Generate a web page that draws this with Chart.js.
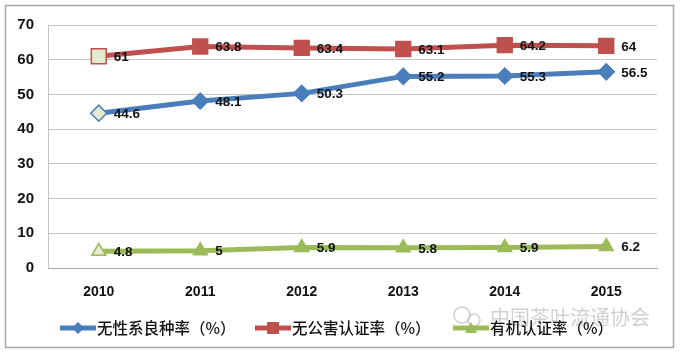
<!DOCTYPE html>
<html><head><meta charset="utf-8">
<script src="https://cdn.jsdelivr.net/npm/chart.js@4/dist/chart.umd.min.js"></script>
<style>html,body{margin:0;padding:0;background:#fff}#c{display:block}</style>
</head><body>
<canvas id="c" width="684" height="355"></canvas>
<script>
const years = ['2010','2011','2012','2013','2014','2015'];
const clonalRate = [44.6, 48.1, 50.3, 55.2, 55.3, 56.5];
const pollutionFreeRate = [61, 63.8, 63.4, 63.1, 64.2, 64];
const organicRate = [4.8, 5, 5.9, 5.8, 5.9, 6.2];
const seriesNames = ['无性系良种率（%）', '无公害认证率（%）', '有机认证率（%）'];
const yMin = 0, yMax = 70, yStep = 10;

const BLUE = '#4a7ebb', RED = '#c0504d', GREEN = '#9bbb59', PALE = '#e4ead0';

function firstPale(col){ return years.map((y,i)=> i===0 ? PALE : col); }

const frame = {
  id:'frame',
  beforeDraw(chart){
    const c = chart.ctx;
    c.save();
    c.fillStyle='#fff'; c.fillRect(0,0,chart.width,chart.height);
    c.strokeStyle='#a6a6a6'; c.lineWidth=1.5;
    c.strokeRect(5.5,5.5,668,342);
    c.fillStyle='rgba(170,170,170,0.55)';
    c.font='20px "Noto Sans CJK SC"';
    c.textBaseline='middle';
    c.fillText('中国茶叶流通协会', 490, 317);
    c.strokeStyle='rgba(170,170,170,0.55)'; c.lineWidth=1.5;
    c.beginPath(); c.arc(462,315,8,0,Math.PI*2); c.stroke();
    c.beginPath(); c.arc(474,320,6,0,Math.PI*2); c.stroke();
    c.restore();
  }
};

const valueLabels = {
  id:'valueLabels',
  afterDatasetsDraw(chart){
    const c = chart.ctx;
    c.save();
    c.font='bold 13.5px "Liberation Sans", Arial, sans-serif';
    c.fillStyle='#111';
    c.textBaseline='middle';
    c.textAlign='left';
    chart.data.datasets.forEach((ds,di)=>{
      chart.getDatasetMeta(di).data.forEach((pt,i)=>{
        c.fillText(String(ds.data[i]), pt.x+15, pt.y+1);
      });
    });
    c.restore();
  }
};

const customLegend = {
  id:'customLegend',
  afterDraw(chart){
    const c = chart.ctx;
    c.save();
    const starts = [60, 255, 453];
    const y = 328;
    c.font='500 15.5px "Noto Sans CJK SC"';
    c.textBaseline='middle';
    chart.data.datasets.forEach((ds,di)=>{
      const x0 = starts[di];
      c.strokeStyle=ds.borderColor; c.lineWidth=5;
      c.beginPath(); c.moveTo(x0,y); c.lineTo(x0+36,y); c.stroke();
      c.fillStyle=ds.borderColor;
      const mx = x0+18;
      c.beginPath();
      if(di===0){ c.moveTo(mx,y-6); c.lineTo(mx+6,y); c.lineTo(mx,y+6); c.lineTo(mx-6,y); }
      else if(di===1){ c.rect(mx-6,y-6,12,12); }
      else { c.moveTo(mx,y-6); c.lineTo(mx+6,y+5); c.lineTo(mx-6,y+5); }
      c.closePath(); c.fill();
      c.fillStyle='#111';
      c.fillText(ds.label, x0+37, y);
    });
    c.restore();
  }
};

new Chart(document.getElementById('c'), {
  type:'line',
  data:{
    labels: years,
    datasets:[
      {label:seriesNames[0], data:clonalRate, borderColor:BLUE, backgroundColor:BLUE,
       pointBackgroundColor:firstPale(BLUE), pointBorderColor:BLUE, pointStyle:'rectRot', pointRadius:8, pointBorderWidth:1.5, borderWidth:5},
      {label:seriesNames[1], data:pollutionFreeRate, borderColor:RED, backgroundColor:RED,
       pointBackgroundColor:firstPale(RED), pointBorderColor:RED, pointStyle:'rect', pointRadius:10.5, pointBorderWidth:1.5, borderWidth:5},
      {label:seriesNames[2], data:organicRate, borderColor:GREEN, backgroundColor:GREEN,
       pointBackgroundColor:firstPale(GREEN), pointBorderColor:GREEN, pointStyle:'triangle', pointRadius:8, pointBorderWidth:1.5, borderWidth:5}
    ]
  },
  options:{
    responsive:false, animation:false,
    layout:{padding:{left:5,right:27,top:25,bottom:0}},
    plugins:{legend:{display:false}, tooltip:{enabled:false}},
    elements:{line:{tension:0}},
    scales:{
      x:{
        offset:true,
        grid:{display:false, drawTicks:false},
        border:{display:true, color:'#a6a6a6', width:1},
        ticks:{padding:16, color:'#111', font:{family:'"Liberation Sans", Arial, sans-serif', size:14, weight:'bold'}},
        afterFit(s){ s.height = 87; }
      },
      y:{
        min:yMin, max:yMax,
        grid:{color:'#c4c4c4', drawTicks:false},
        border:{display:true, color:'#c4c4c4'},
        ticks:{stepSize:yStep, padding:14, color:'#111', font:{family:'"Liberation Sans", Arial, sans-serif', size:15, weight:'bold'}},
        afterFit(s){ s.width = 43; }
      }
    }
  },
  plugins:[frame, valueLabels, customLegend]
});
</script>
</body></html>
